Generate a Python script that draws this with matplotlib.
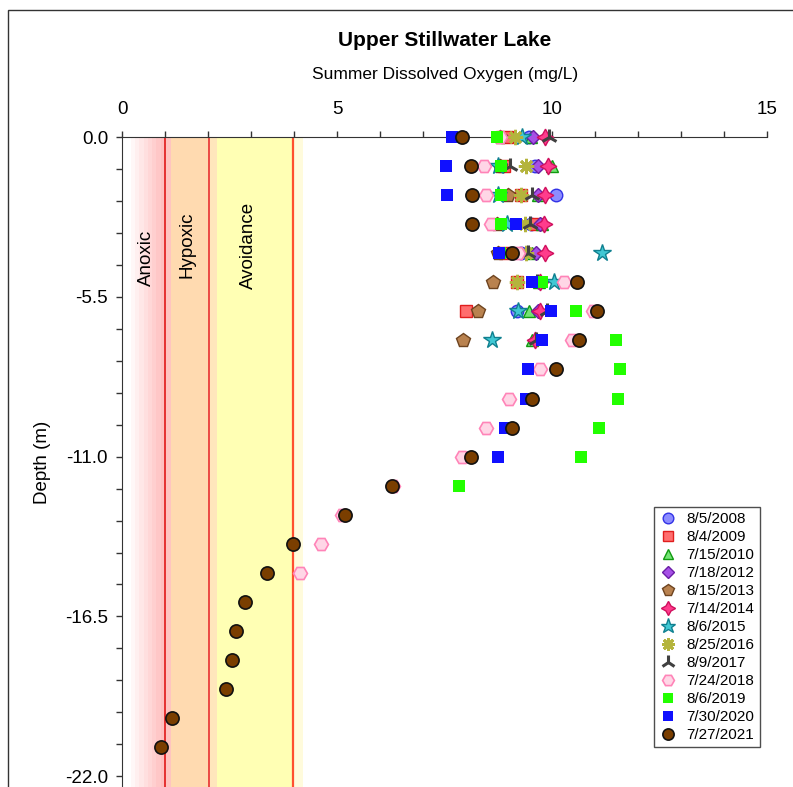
import numpy as np
import matplotlib.pyplot as plt
from matplotlib.patches import Rectangle

plt.rcParams['font.family'] = ['Liberation Sans', 'DejaVu Sans']

# dissolved oxygen (mg/L) per survey, one value per metre of depth from 0 m down
dates = ['8/5/2008', '8/4/2009', '7/15/2010', '7/18/2012', '8/15/2013', '7/14/2014',
         '8/6/2015', '8/25/2016', '8/9/2017', '7/24/2018', '8/6/2019', '7/30/2020',
         '7/27/2021']

do_2008 = [9.46, 9.60, 10.09, 9.50, 9.29, 9.70, 9.19]
do_2009 = [8.95, 8.88, 9.28, 9.63, 8.91, 9.19, 8.00]
do_2010 = [9.50, 9.99, 9.68, 9.76, 9.53, 9.70, 9.47, 9.53]
do_2012 = [9.55, 9.68, 9.68, 9.72, 9.63, 9.70, 9.68]
do_2013 = [8.79, 8.80, 8.97, 8.71, 8.75, 8.62, 8.27, 7.94]
do_2014 = [9.84, 9.91, 9.84, 9.82, 9.84, 9.72, 9.72, 9.60]
do_2015 = [9.30, 8.75, 8.75, 8.95, 11.16, 10.05, 9.22, 8.61]
do_2016 = [9.14, 9.39, 9.28, 9.37, 9.39, 9.19]
do_2017 = [9.93, 9.02, 9.53, 9.49, 9.45, 9.64, 9.88, 9.63]
do_2018 = [8.80, 8.42, 8.47, 8.57, 9.22, 10.29, 10.96, 10.46, 9.72, 9.01, 8.46,
           7.91, 6.31, 5.11, 4.62, 4.14]
do_2019 = [8.73, 8.81, 8.81, 8.81, 8.80, 9.76, 10.55, 11.48, 11.57, 11.54, 11.10,
           10.67, 7.84]
do_2020 = [7.68, 7.53, 7.55, 9.16, 8.77, 9.54, 9.97, 9.77, 9.45, 9.39, 8.91, 8.75]
do_2021 = [7.91, 8.11, 8.15, 8.15, 9.06, 10.57, 11.05, 10.63, 10.09, 9.53, 9.08,
           8.11, 6.27, 5.19, 3.98, 3.38, 2.87, 2.64, 2.56, 2.43, 1.17, 0.90]

series = [do_2008, do_2009, do_2010, do_2012, do_2013, do_2014, do_2015,
          do_2016, do_2017, do_2018, do_2019, do_2020, do_2021]

# marker, face, edge, size, edge width
styles = [
    ('o', '#8c8cff', '#3232e6', 9, 1.0),
    ('s', '#ff6e6e', '#e01e1e', 8, 1.0),
    ('^', '#74e474', '#109a10', 9, 1.0),
    ('D', '#a650e6', '#6a1ea6', 7.5, 1.0),
    ('p', '#b9824f', '#6e4420', 10, 1.0),
    ((4, 1, 0), '#ff3c8c', '#d0105e', 12, 1.0),
    ('*', '#40c8d4', '#108090', 13, 1.0),
    ((8, 2, 0), '#b4b43c', '#b4b43c', 11, 2.0),
    ('2', '#404040', '#404040', 12, 2.2),
    ('H', '#ffd6e6', '#ff84b8', 10, 1.2),
    ('s', '#22ff00', '#22ff00', 8, 0.0),
    ('s', '#1010ff', '#1010ff', 8, 0.0),
    ('o', '#7a3e00', '#111111', 9.5, 1.2),
]

fig = plt.figure(figsize=(7.93, 7.87), dpi=100)
ax = fig.add_axes([122 / 793, 0.0, 645 / 793, 650 / 787])

# oxygen zones
pink_edges = np.linspace(0.2, 1.0, 9)
for i in range(8):
    t = (i + 1) / 8
    c = (1.0, 1 - 0.25 * t, 1 - 0.25 * t)
    ax.axvspan(pink_edges[i], pink_edges[i + 1], color=c, lw=0, zorder=0)
ax.axvspan(1.0, 1.13, color='#ffc4c0', lw=0, zorder=0)
ax.axvspan(1.13, 2.02, color='#ffdab0', lw=0, zorder=0)
ax.axvspan(2.02, 2.2, color='#ffe6bc', lw=0, zorder=0)
ax.axvspan(2.2, 4.0, color='#ffffb4', lw=0, zorder=0)
ax.axvspan(4.0, 4.22, color='#fffbdc', lw=0, zorder=0)
ax.axvline(1.0, color='#e01818', lw=1.2, zorder=1)
ax.axvline(2.02, color='#e83030', lw=1.2, zorder=1)
ax.axvline(3.98, color='#ff5030', lw=1.6, zorder=1)

ax.text(0.56, -4.17, 'Anoxic', rotation=90, ha='center', va='center', fontsize=13.5)
ax.text(1.51, -3.72, 'Hypoxic', rotation=90, ha='center', va='center', fontsize=13.5)
ax.text(2.93, -3.72, 'Avoidance', rotation=90, ha='center', va='center', fontsize=13.5)

for vals, lab, (m, fc, ec, ms, mew) in zip(series, dates, styles):
    depth = -np.arange(len(vals))
    ax.plot(vals, depth, ls='none', marker=m, markerfacecolor=fc,
            markeredgecolor=ec, markersize=ms, markeredgewidth=mew,
            color=ec, label=lab, zorder=3, clip_on=False)

ax.set_xlim(0, 15)
ax.set_ylim(-22.37, 0)
ax.xaxis.tick_top()
ax.set_xticks([0, 5, 10, 15])
ax.set_xticks(np.arange(0, 16, 1), minor=True)
ax.set_yticks([0, -5.5, -11, -16.5, -22])
ax.set_yticklabels(['0.0', '-5.5', '-11.0', '-16.5', '-22.0'])
ax.set_yticks(np.arange(0, -22.01, -1.1), minor=True)
ax.tick_params(axis='both', which='both', direction='out', length=4, width=1,
               labelsize=13.5, color='#333333')
ax.tick_params(axis='x', pad=10)
ax.tick_params(axis='y', pad=6)
for s in ['right', 'bottom']:
    ax.spines[s].set_visible(False)
for s in ['top', 'left']:
    ax.spines[s].set_color('#333333')
ax.set_ylabel('Depth (m)', fontsize=13.5, labelpad=10)

fig.text(445 / 793, 1 - 40 / 787, 'Upper Stillwater Lake', ha='center', va='center',
         fontsize=15, fontweight='bold')
fig.text(445 / 793, 1 - 75 / 787, 'Summer Dissolved Oxygen (mg/L)', ha='center',
         va='center', fontsize=12.5)

leg = ax.legend(loc='upper right', bbox_to_anchor=(760 / 793, 1 - 507 / 787),
                bbox_transform=fig.transFigure, fontsize=11, frameon=True,
                fancybox=False, edgecolor='#222222', borderpad=0.35,
                labelspacing=0.26, handletextpad=0.6, handlelength=1.2,
                markerscale=0.85, borderaxespad=0)
leg.get_frame().set_linewidth(1.0)

fig.add_artist(Rectangle((8 / 793, -0.1), 1.2, 1 - 10 / 787 + 0.1, fill=False,
                         edgecolor='#333333', lw=1.0, transform=fig.transFigure))

fig.savefig('out.png', dpi=100)
